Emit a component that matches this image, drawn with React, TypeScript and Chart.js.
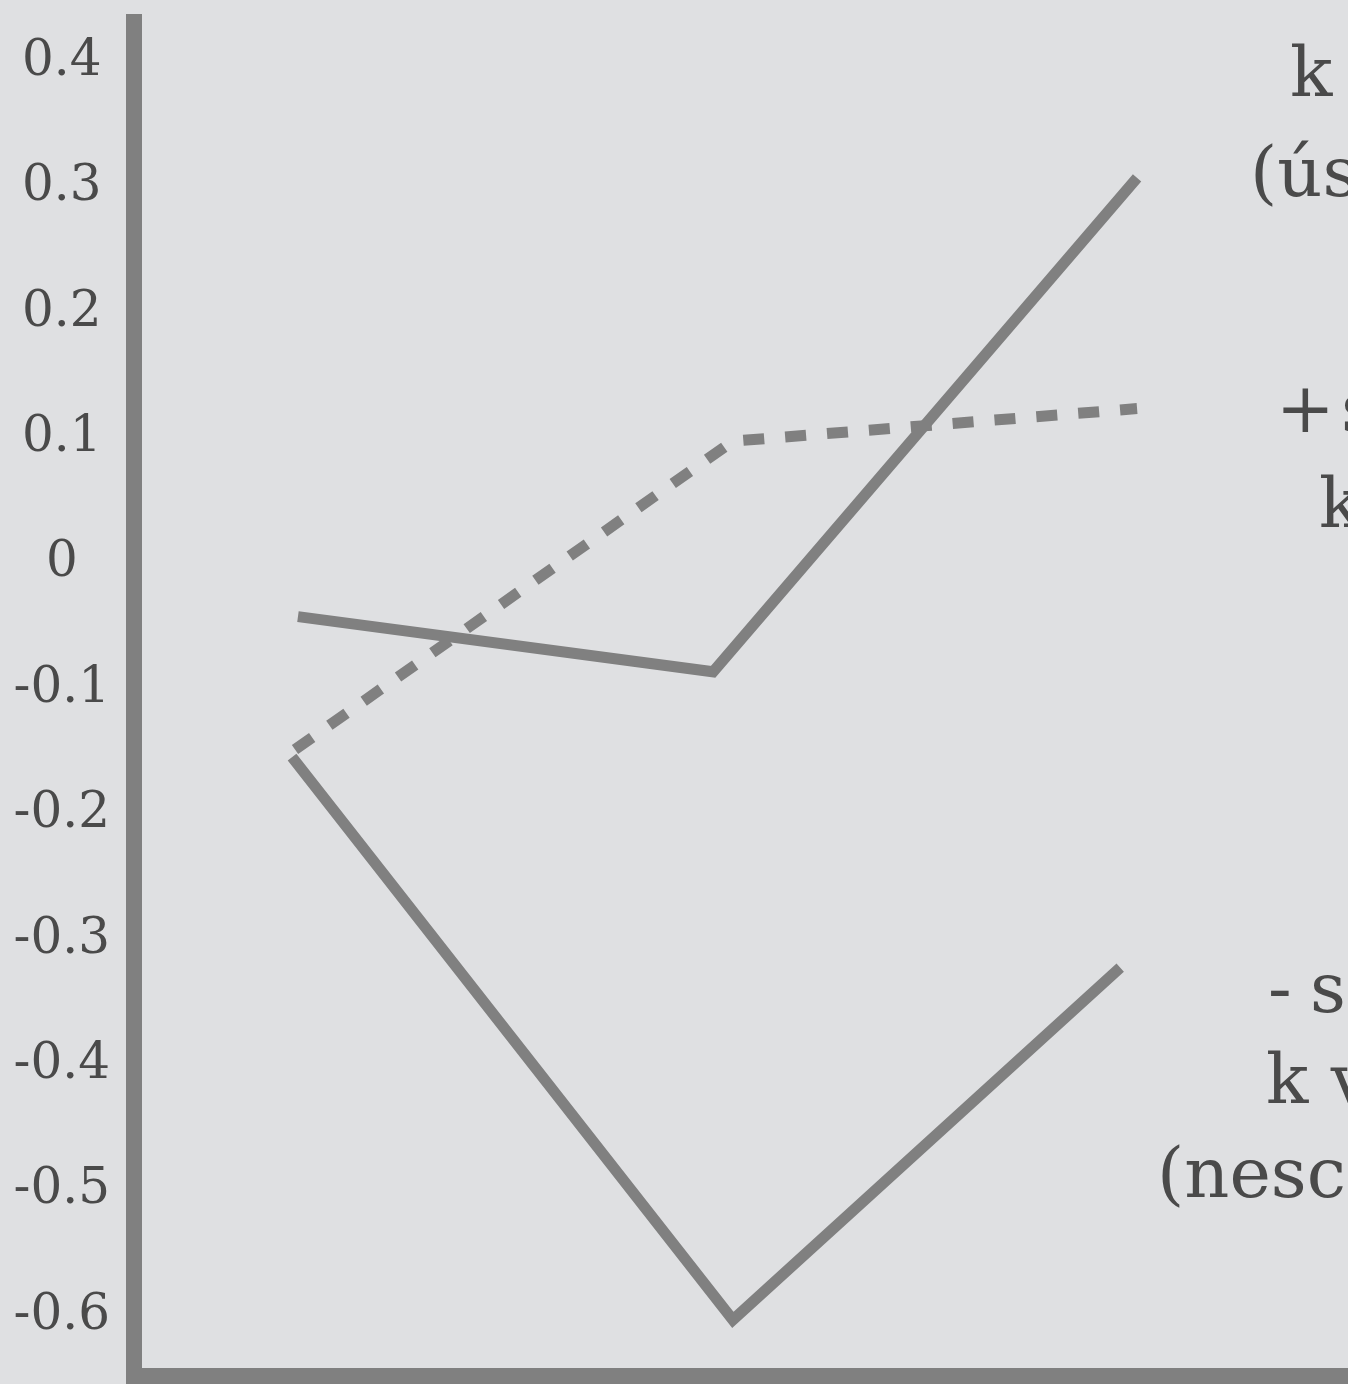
import React, { useEffect, useRef } from "react";
import { Chart, registerables } from "chart.js";

Chart.register(...registerables);

// Y axis ticks
const yTickValues = [0.4, 0.3, 0.2, 0.1, 0, -0.1, -0.2, -0.3, -0.4, -0.5, -0.6];
const yTickLabels = ["0.4", "0.3", "0.2", "0.1", "0", "-0.1", "-0.2", "-0.3", "-0.4", "-0.5", "-0.6"];

// Upper solid series
const upperX = [1.007, 1.993, 3.0];
const upperY = [-0.048, -0.092, 0.302];

// Dashed series
const dashedX = [1.0, 2.04, 3.0];
const dashedY = [-0.154, 0.092, 0.118];

// Lower solid series
const lowerX = [0.993, 2.04, 2.96];
const lowerY = [-0.16, -0.609, -0.328];

// Side labels (cut off at the right edge in the original)
const sideLabels = ["k", "(ús", "+ s", "k", "- s", "k v", "(nesc"];

const W = 1348;
const H = 1384;
const GREY = "#808080";
const TEXT = "#4a4a4a";
const FONT = "'DejaVu Serif', serif";

const pts = (xs: number[], ys: number[]) => xs.map((x, i) => ({ x, y: ys[i] }));

const axisLinesPlugin = {
  id: "axisLines",
  beforeDatasetsDraw(chart: any) {
    const { ctx, chartArea } = chart;
    ctx.save();
    ctx.fillStyle = GREY;
    ctx.fillRect(chartArea.left - 16, chartArea.top, 16, H - chartArea.top);
    ctx.fillRect(chartArea.left - 16, chartArea.bottom, W - chartArea.left + 16, 16);
    ctx.restore();
  },
};

const labelPos = [
  { left: 1290, baseline: 96, ws: 0 },
  { left: 1250, baseline: 196, ws: 0 },
  { left: 1276, baseline: 432, ws: -16 },
  { left: 1319, baseline: 527, ws: 0 },
  { left: 1268, baseline: 1012, ws: -4 },
  { left: 1266, baseline: 1103, ws: 0 },
  { left: 1157, baseline: 1197, ws: 0 },
];

export default function App() {
  const ref = useRef<HTMLCanvasElement | null>(null);

  useEffect(() => {
    if (!ref.current) return;
    const lineStyle = {
      borderColor: GREY,
      borderWidth: 11,
      borderJoinStyle: "miter",
      borderCapStyle: "butt",
      pointRadius: 0,
      tension: 0,
      fill: false,
    };
    const chart = new Chart(ref.current, {
      type: "line",
      data: {
        datasets: [
          { ...lineStyle, data: pts(upperX, upperY) },
          { ...lineStyle, data: pts(dashedX, dashedY), borderDash: [21, 21] },
          { ...lineStyle, data: pts(lowerX, lowerY) },
        ],
      },
      options: {
        responsive: false,
        animation: false,
        events: [],
        layout: { padding: { top: 14, bottom: 16, left: 0, right: 0 } },
        plugins: { legend: { display: false }, tooltip: { enabled: false }, title: { display: false } },
        scales: {
          x: { type: "linear", display: false, min: 0.6366, max: 3.501 },
          y: {
            type: "linear",
            position: "left",
            min: -0.6474,
            max: 0.4328,
            grid: { display: false, drawTicks: false },
            border: { display: false },
            afterBuildTicks: (scale: any) => {
              scale.ticks = yTickValues.map((v) => ({ value: v }));
            },
            afterFit: (scale: any) => {
              scale.width = 142;
              scale.paddingTop = 0;
              scale.paddingBottom = 0;
            },
            ticks: {
              autoSkip: false,
              crossAlign: "center",
              padding: 32,
              labelOffset: 7,
              color: TEXT,
              font: { family: FONT, size: 50 },
              callback: (v: any) => {
                const i = yTickValues.findIndex((t) => Math.abs(t - Number(v)) < 1e-9);
                return i >= 0 ? yTickLabels[i] : "";
              },
            },
          },
        },
      },
      plugins: [axisLinesPlugin],
    } as any);
    return () => chart.destroy();
  }, []);

  return (
    <div
      style={{
        position: "fixed",
        left: 0,
        top: 0,
        width: W,
        height: H,
        overflow: "hidden",
        background: "#dfe0e2",
      }}
    >
      <canvas ref={ref} width={W} height={H} style={{ position: "absolute", left: 0, top: 0 }} />
      {sideLabels.map((t, i) => (
        <div
          key={i}
          style={{
            position: "absolute",
            left: labelPos[i].left,
            top: labelPos[i].baseline - 59,
            fontFamily: FONT,
            fontSize: 70,
            lineHeight: "70px",
            color: TEXT,
            whiteSpace: "pre",
            wordSpacing: labelPos[i].ws,
          }}
        >
          {t}
        </div>
      ))}
    </div>
  );
}
